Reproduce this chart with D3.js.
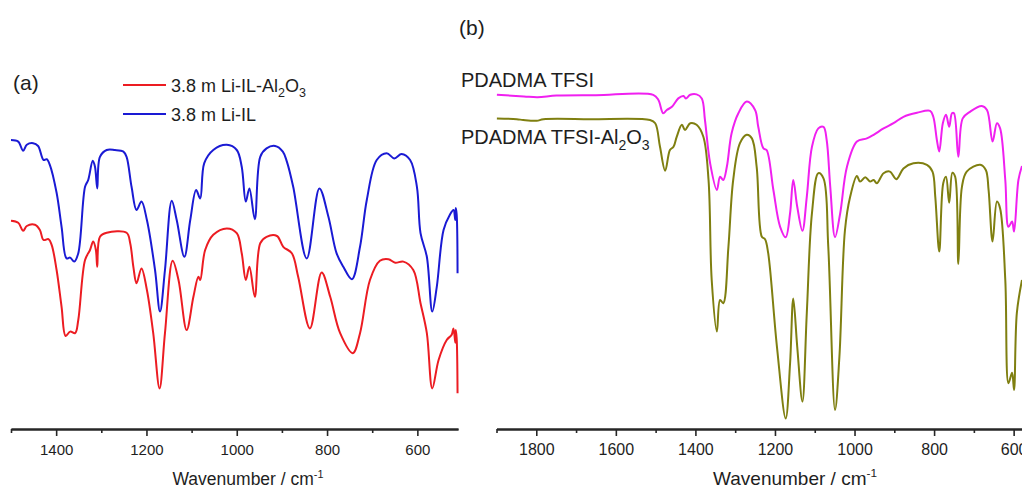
<!DOCTYPE html>
<html><head><meta charset="utf-8">
<script src="https://cdn.jsdelivr.net/npm/d3@7"></script>
<style>
body{margin:0;background:#fff}
svg{display:block}
text{font-family:"Liberation Sans",Arial,Helvetica,sans-serif;fill:#1e1e1e}
</style>
</head><body>
<svg id="chart" width="1022" height="490"></svg>
<script>
// ---------- Panel (a) data: wavenumber (cm-1) and transmittance (a.u.) ----------
const liIL_wn = [1500,1484,1473,1465,1451,1440,1428,1421,1414,1399,1388,1377,1369,1360,1351,1336,1329,1319,1314,1309,1303,1288,1270,1251,1244,1233,1222,1211,1199,1181,1170,1159,1144,1133,1116,1103,1090,1081,1072,1052,1022,1000,989,980,972,960,948,934,915,898,889,875,845,817,797,779,764,745,727,712,690,668,651,635,616,601,593,579,567,557,542,528,520,516,515,513,511];
const liIL_T  = [72.5,72.1,69.8,71.3,71.7,71,67.5,67.7,66.3,59.3,50.8,42.9,43.1,42.1,44.2,60.8,62.5,67.3,65.8,60.4,68.3,70,70,69.6,68.3,60.8,55,57.1,52.5,40,29.6,40,57.3,52.5,43.3,52.5,60,57.9,66.7,70,71.3,70,65.8,57.1,60.4,52.7,68.3,70.4,71,69.6,67.1,60.8,42.9,60.4,53.3,44.2,40.8,37.7,45.8,57.5,67.5,69.2,67.9,69,67.5,60.8,49.2,43.3,29.6,35.8,50,53.8,55,52.5,55.5,54,39.2];

const liILAl_wn = [1500,1484,1473,1465,1447,1436,1428,1417,1410,1399,1388,1379,1369,1358,1351,1336,1325,1318,1312,1309,1303,1288,1244,1236,1229,1222,1211,1199,1185,1171,1159,1142,1129,1111,1096,1085,1081,1070,1052,1022,1000,989,980,972,960,948,934,911,897,878,864,838,812,793,771,743,727,705,683,664,649,631,609,593,579,567,553,535,524,520,516,515,513,511];
const liILAl_T  = [52.3,51.8,49.8,51,51.3,50,47.5,47.7,46.3,40,30.8,23.5,24.6,24.2,27.5,42.5,45,47.1,45,40.8,48.3,49.3,49.3,46.7,40.8,36.7,40.4,35,24.2,10.4,24.2,42.3,37.5,25,33.3,38.3,37.5,45,48.8,50.4,49.2,44.2,37.5,40.8,33.3,46.7,48.3,48.5,45.8,44.2,38.3,25.4,39.4,33.3,24.2,19.2,24.2,37.5,42.3,42.7,41.8,42.1,40,31.7,24.2,10.4,17.5,22.5,23.8,25.4,21.8,25,23,9.2];

// ---------- Panel (b) data ----------
const pdadma_wn = [1899,1831,1797,1749,1650,1506,1493,1481,1472,1459,1443,1430,1424,1413,1397,1384,1376,1363,1346,1338,1330,1321,1309,1292,1271,1250,1242,1229,1221,1204,1187,1173,1162,1154,1144,1131,1120,1107,1091,1078,1070,1061,1049,1036,1019,994,969,952,927,902,877,843,810,802,793,787,778,770,762,755,750,739,728,709,680,667,653,642,634,621,613,604,599,588,579];
const pdadma_T  = [83.8,83.4,83.2,83.6,83.7,83.8,82.5,79.2,80,80.8,82.9,83.5,82.9,83.8,83.9,82.9,77.5,66.7,60,63.3,62.5,65.8,74.2,79.2,82.1,80,75.8,70.4,70,60,50.8,48.2,54.2,62.5,55.8,49.8,58.3,70.8,75.4,75.8,72.5,60.8,48.2,54.2,65.8,72.1,72.9,73.8,75.4,76.7,78.3,79.3,79.8,78.3,72.5,69.6,76.7,78.8,75.8,79.2,79.2,68.3,77.9,79.6,81,80,72.1,76.7,75.4,62.5,50.8,52.1,49.6,62.5,66];

const pdadmaAl_wn = [1899,1849,1833,1799,1782,1665,1514,1501,1489,1476,1464,1455,1447,1434,1426,1413,1397,1380,1367,1359,1346,1338,1330,1317,1305,1288,1271,1258,1246,1233,1225,1217,1195,1173,1162,1154,1144,1131,1120,1107,1091,1078,1066,1049,1038,1024,1011,994,986,973,961,952,944,927,911,895,877,852,818,804,797,787,777,770,762,754,747,739,730,718,684,670,663,653,642,634,621,613,604,599,592,579];
const pdadmaAl_T  = [77.9,77.7,77.5,77.3,77.7,77.7,77.5,76.7,70.8,64.8,70,70.8,73.3,76.3,75,76.7,76.3,73.3,62.5,37.5,24.6,32.5,31.7,45.8,62.5,71.7,73.8,72.9,65.8,48.3,47.7,44.2,20.8,2.9,16.7,32.9,20.8,7.1,29.2,54.2,64.2,62.9,45.8,5,18.3,50,58.3,63.5,62.1,63.2,62.1,62.5,61.7,64.2,64.6,62.7,65.4,66.7,66.3,64.6,58.3,44.6,61.7,63.3,56.8,64.3,63.3,41.5,60.8,64.6,66.3,65,60,47.1,57.1,55.4,37.5,11.7,14.3,10,29.2,37.5];

// ---------- Tick labels ----------
const ticksA_major = [1400,1200,1000,800,600];
const ticksA_minor = [1500,1300,1100,900,700];
const ticksB_major = [1800,1600,1400,1200,1000,800,600];
const ticksB_minor = [1900,1700,1500,1300,1100,900,700];

const colors = {liILAl:"#ec1c22", liIL:"#1a1ad4", pdadma:"#f020f0", pdadmaAl:"#7f7f10"};

const svg = d3.select("#chart");
const y = d3.scaleLinear().domain([0,100]).range([430,30]);
const xA = d3.scaleLinear().domain([1500,510]).range([11,458]);
const xB = d3.scaleLinear().domain([1900,579]).range([496.5,1022]);
const axisY = 429;

function zip(w, t){ return w.map((d,i)=>({w:d, t:t[i]})); }

function drawAxis(x, major, minor, fs){
  const gMin = svg.append("g").attr("transform",`translate(0,${axisY})`)
    .call(d3.axisBottom(x).tickValues(minor).tickSize(4).tickSizeOuter(0).tickFormat(""));
  const gMaj = svg.append("g").attr("transform",`translate(0,${axisY})`)
    .call(d3.axisBottom(x).tickValues(major).tickSize(7).tickSizeOuter(0).tickPadding(8).tickFormat(d3.format("d")));
  [gMin,gMaj].forEach(g=>{
    g.select(".domain").attr("stroke","#262626").attr("stroke-width",2);
    g.selectAll(".tick line").attr("stroke","#262626").attr("stroke-width",1.6);
    g.selectAll(".tick text").attr("font-size",fs).attr("font-family","Liberation Sans, Arial, sans-serif").attr("fill","#1e1e1e");
  });
}

function drawLine(x, w, t, color){
  const line = d3.line().x(d=>x(d.w)).y(d=>y(d.t)).curve(d3.curveCatmullRom.alpha(0.5));
  svg.append("path").datum(zip(w,t)).attr("d",line)
    .attr("fill","none").attr("stroke",color).attr("stroke-width",2).attr("stroke-linejoin","round");
}

function title(cx, fs){
  const t = svg.append("text").attr("x",cx).attr("y",485).attr("text-anchor","middle").attr("font-size",fs);
  t.append("tspan").text("Wavenumber / cm");
  t.append("tspan").attr("dy",-fs*0.42).attr("font-size",fs*0.62).text("-1");
}

// Panel (a)
drawAxis(xA, ticksA_major, ticksA_minor, 15);
drawLine(xA, liIL_wn, liIL_T, colors.liIL);
drawLine(xA, liILAl_wn, liILAl_T, colors.liILAl);
title(248, 17.5);
svg.append("text").attr("x",13).attr("y",90).attr("font-size",21).text("(a)");

// legend (a)
const legend = [
  {c:colors.liILAl, y:85, parts:[["3.8 m Li-IL-Al",0],["2",1],["O",0],["3",1]]},
  {c:colors.liIL, y:114, parts:[["3.8 m Li-IL",0]]}
];
legend.forEach(l=>{
  svg.append("line").attr("x1",123).attr("x2",166).attr("y1",l.y).attr("y2",l.y).attr("stroke",l.c).attr("stroke-width",2);
  const t = svg.append("text").attr("x",171).attr("y",l.y+7).attr("font-size",18);
  let prev = 0;
  l.parts.forEach(([s,sub])=>{
    const ts = t.append("tspan").text(s);
    const dy = (sub?5:0) - (prev?5:0);
    if (dy) ts.attr("dy",dy);
    if (sub) ts.attr("font-size",12.5);
    prev = sub;
  });
});

// Panel (b)
drawAxis(xB, ticksB_major, ticksB_minor, 16);
drawLine(xB, pdadma_wn, pdadma_T, colors.pdadma);
drawLine(xB, pdadmaAl_wn, pdadmaAl_T, colors.pdadmaAl);
title(795, 19);
svg.append("text").attr("x",459).attr("y",35).attr("font-size",21).text("(b)");

svg.append("text").attr("x",461).attr("y",87).attr("font-size",20).text("PDADMA TFSI");
const lb = svg.append("text").attr("x",461).attr("y",144).attr("font-size",20);
lb.append("tspan").text("PDADMA TFSI-Al");
lb.append("tspan").attr("dy",6).attr("font-size",14).text("2");
lb.append("tspan").attr("dy",-6).text("O");
lb.append("tspan").attr("dy",6).attr("font-size",14).text("3");
</script>
</body></html>
